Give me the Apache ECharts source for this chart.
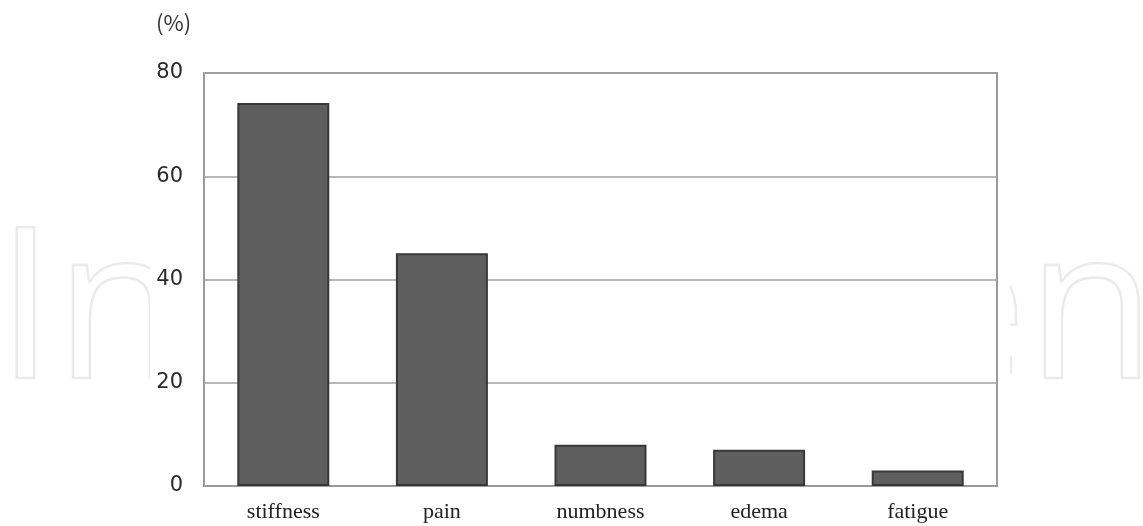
<!DOCTYPE html>
<html>
<head>
<meta charset="utf-8">
<script src="https://cdn.jsdelivr.net/npm/echarts@6/dist/echarts.min.js"></script>
<style>
html,body{margin:0;padding:0;background:#fff;}
#main{width:1143px;height:526px;}
</style>
</head>
<body>
<div id="main"></div>
<script>
var categories = ['stiffness', 'pain', 'numbness', 'edema', 'fatigue'];
var values = [74.2, 45.1, 8, 7, 3];
var yTicks = [0, 20, 40, 60, 80];

var chart = echarts.init(document.getElementById('main'));
var wm = { font: '210px "Open Sans"', fill: 'none', stroke: '#ebebeb', lineWidth: 2.5 };
chart.setOption({
  animation: false,
  backgroundColor: '#fff',
  graphic: [
    {
      type: 'text', z: -10, left: -5, top: 212, silent: true,
      style: Object.assign({ text: 'Intech' }, wm)
    },
    {
      type: 'text', z: -10, left: 616, top: 212, silent: true,
      style: Object.assign({ text: 'Open' }, wm)
    },
    {
      type: 'rect', z: -5, silent: true,
      shape: { x: 150, y: 0, width: 860, height: 526 },
      style: { fill: '#fff' }
    },
    {
      type: 'text', left: 156, top: 12,
      style: { text: '(%)', font: '22px "Noto Sans CJK JP"', fill: '#333' }
    }
  ],
  grid: {
    left: 204, right: 146, top: 73, bottom: 40,
    show: true, backgroundColor: '#fff', borderColor: '#9a9a9a', borderWidth: 2,
    z: 2
  },
  xAxis: {
    type: 'category',
    data: categories,
    axisLine: { lineStyle: { color: '#9a9a9a', width: 2 } },
    axisTick: { show: false },
    axisLabel: { fontFamily: 'Liberation Serif', fontSize: 22, color: '#222', margin: 15 },
    z: 3
  },
  yAxis: {
    type: 'value',
    min: 0, max: 80, interval: 20,
    axisLine: { show: false },
    axisTick: { show: false },
    splitLine: { lineStyle: { color: '#a0a0a0', width: 1.5 } },
    axisLabel: {
      fontFamily: 'DejaVu Sans', fontSize: 21, color: '#2a2a2a', margin: 21,
      formatter: function (v) { return yTicks.indexOf(v) >= 0 ? String(v) : ''; }
    },
    z: 3
  },
  series: [{
    type: 'bar',
    data: values,
    barWidth: '58%',
    z: 4,
    itemStyle: {
      color: '#5e5e5e',
      borderColor: '#383838',
      borderWidth: 2
    }
  }]
});
</script>
</body>
</html>
